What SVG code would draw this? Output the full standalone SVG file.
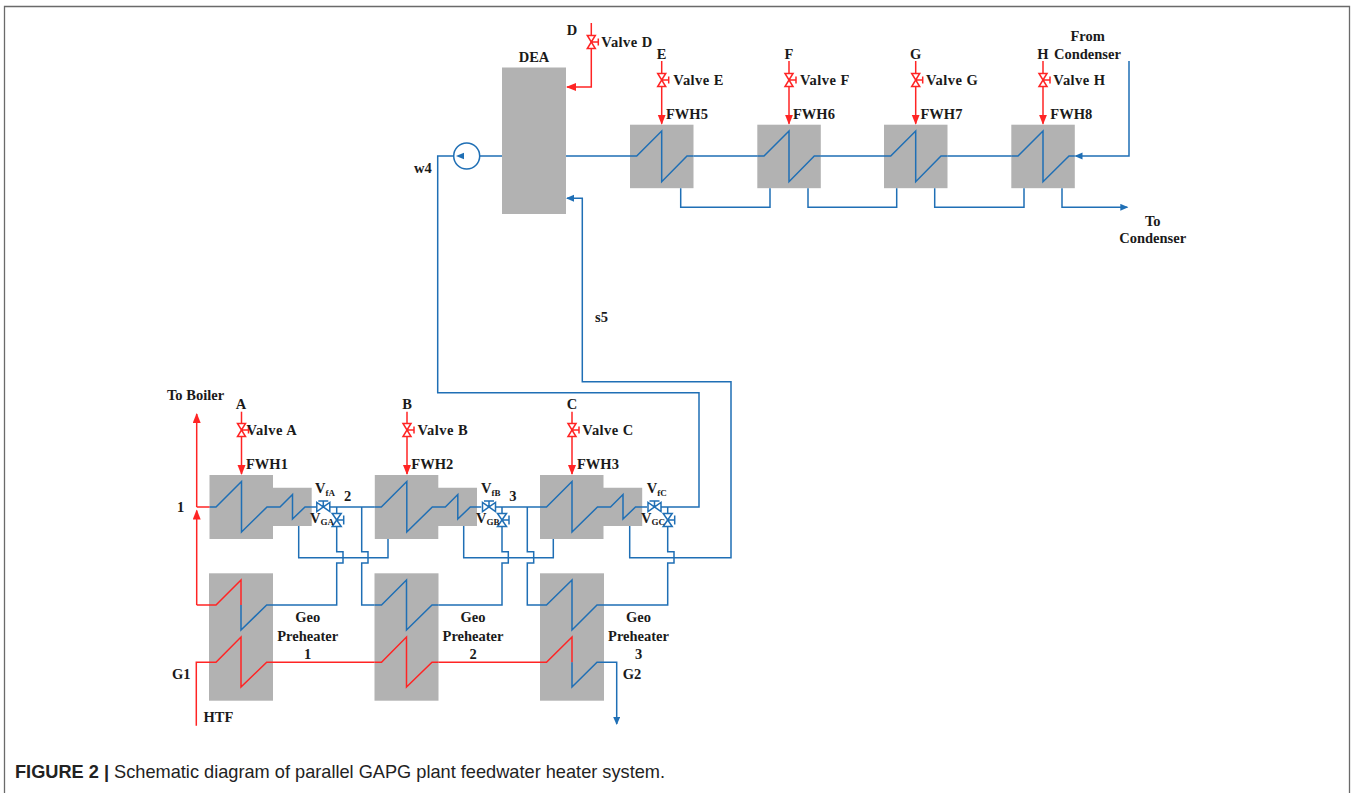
<svg xmlns="http://www.w3.org/2000/svg" width="1355" height="793" viewBox="0 0 1355 793">
<style>
text{font-family:"Liberation Serif","Times New Roman",serif;font-weight:700;font-size:14.5px;fill:#1a1a1a}
.m{text-anchor:middle}
.sub{font-size:9px}
.vl{letter-spacing:.45px}
.box{fill:#b2b2b2}
.b,.r{fill:none;stroke-width:1.5;stroke-linejoin:miter}
.b{stroke:#1f6fb5}
.r{stroke:#ff2424}
.cap{font-family:"Liberation Sans",Arial,sans-serif;font-size:18.2px;font-weight:400;fill:#222}
.capb{font-weight:700}
</style>
<defs>
<marker id="ar" markerUnits="userSpaceOnUse" markerWidth="11" markerHeight="9" refX="9" refY="4" orient="auto"><path d="M0,0 L10,4 L0,8 Z" fill="#ff2424"/></marker>
<marker id="ab" markerUnits="userSpaceOnUse" markerWidth="10" markerHeight="8" refX="7" refY="3.5" orient="auto"><path d="M0,0 L8,3.5 L0,7 Z" fill="#1f6fb5"/></marker>
<g id="vred"><path class="r" style="fill:#fff" d="M-4,-6.5 H4 L-4,6.5 H4 Z M0,0 H7 M7,-3.5 V3.5"/></g>
<g id="vh"><path class="b" style="fill:#fff" d="M-6.5,-4.5 V4.5 L6.5,-4.5 V4.5 Z M0,0 V-6 M-5,-6 H5"/></g>
<g id="vv"><path class="b" style="fill:#fff" d="M-4.5,-6.5 H4.5 L-4.5,6.5 H4.5 Z M0,0 H7 M7,-4.5 V4.5"/></g>
</defs>
<rect width="1355" height="793" fill="#fff"/>
<path d="M4.5,793 V6.5 H1349.5 V793" fill="none" stroke="#6a6a6a" stroke-width="1.3"/>

<g id="node-DEA"><rect class="box" x="502" y="67.5" width="64" height="146.5"/><text class="m" x="534" y="61.5">DEA</text></g>
<g id="node-pump"><circle class="b" cx="466.7" cy="156" r="13"/><path d="M456,156 L464,152.8 V159.2 Z" fill="#1f6fb5"/></g>

<g id="node-FWH5"><rect class="box" x="630" y="124.7" width="63.5" height="63.5"/><path class="b" d="M630,156 H636.7 L661.7,131 V181.7 L687,156 H693.5"/><text x="666" y="118.7">FWH5</text></g>
<g id="node-FWH6"><rect class="box" x="757.3" y="124.7" width="63.5" height="63.5"/><path class="b" d="M757.3,156 H764 L789,131 V181.7 L814.3,156 H820.8"/><text x="793" y="118.7">FWH6</text></g>
<g id="node-FWH7"><rect class="box" x="884" y="124.7" width="63.5" height="63.5"/><path class="b" d="M884,156 H890.7 L915.7,131 V181.7 L941,156 H947.5"/><text x="920.5" y="118.7">FWH7</text></g>
<g id="node-FWH8"><rect class="box" x="1011.3" y="124.7" width="63.5" height="63.5"/><path class="b" d="M1011.3,156 H1018 L1043,131 V181.7 L1069,156 H1074.8"/><text x="1050.3" y="118.7">FWH8</text></g>

<g id="node-FWH1"><path class="box" d="M209.5,475 H273 V487.7 H311.7 V526 H273 V539 H209.5 Z"/><path class="b" d="M209.5,507 H216 L241.5,481.5 V532 L267,507 H280 L292.5,494.5 V519 L305,507 H316"/><text x="246" y="469">FWH1</text></g>
<g id="node-FWH2"><path class="box" d="M374.8,475 H438.3 V487.7 H477 V526 H438.3 V539 H374.8 Z"/><path class="b" d="M374.8,507 H381.3 L406.8,481.5 V532 L432.3,507 H445.3 L457.8,494.5 V519 L470.3,507 H481.3"/><text x="411.3" y="469">FWH2</text></g>
<g id="node-FWH3"><path class="box" d="M540,475 H603.5 V487.7 H642.2 V526 H603.5 V539 H540 Z"/><path class="b" d="M540,507 H546.5 L572,481.5 V532 L597.5,507 H610.5 L623,494.5 V519 L635.5,507 H647"/><text x="577" y="469">FWH3</text></g>

<g id="node-Geo1"><rect class="box" x="209" y="573.3" width="64" height="127.4"/><path class="r" d="M209,605 H216 L241,580 V605"/><path class="b" d="M241,605 V630 L266.7,605 H273"/><path class="r" d="M209,662.3 H216 L241,637 V687 L266.7,662.3 H273"/><text class="m" x="307.7" y="622">Geo</text><text class="m" x="307.7" y="640.5">Preheater</text><text class="m" x="307.7" y="658.5">1</text></g>
<g id="node-Geo2"><rect class="box" x="374.5" y="573.3" width="64" height="127.4"/><path class="b" d="M374.5,605 H381.5 L406.5,580 V630 L432,605 H438.5"/><path class="r" d="M374.5,662.3 H381.5 L406.5,637 V687 L432,662.3 H438.5"/><text class="m" x="473" y="622">Geo</text><text class="m" x="473" y="640.5">Preheater</text><text class="m" x="473" y="658.5">2</text></g>
<g id="node-Geo3"><rect class="box" x="540" y="573.3" width="64" height="127.4"/><path class="b" d="M540,605 H546.5 L572,580 V630 L597,605 H604"/><path class="r" d="M540,662.3 H546.5 L572,637 V662.3"/><path class="b" d="M572,662.3 V687 L597,662.3 H604"/><text class="m" x="638.5" y="622">Geo</text><text class="m" x="638.5" y="640.5">Preheater</text><text class="m" x="638.5" y="658.5">3</text></g>

<g id="connectors">
<path class="r" d="M196.7,605 V510.5" marker-end="url(#ar)"/>
<path class="r" d="M196.7,507 V414" marker-end="url(#ar)"/>
<path class="r" d="M196.7,507 H209.5"/>
<path class="r" d="M196.7,605 H209"/>
<path class="r" d="M196.3,725.7 V662.3 H209"/>
<path class="r" d="M273,662.3 H374.5"/>
<path class="r" d="M438.5,662.3 H540"/>
<path class="b" d="M604,662.3 H616.7 V724" marker-end="url(#ab)"/>
<path class="r" d="M241.5,411.7 V474" marker-end="url(#ar)"/>
<path class="r" d="M407,411.7 V474" marker-end="url(#ar)"/>
<path class="r" d="M572,411.7 V474" marker-end="url(#ar)"/>
<path class="r" d="M591.3,23 V87 H567" marker-end="url(#ar)"/>
<path class="r" d="M661.7,61 V123.7" marker-end="url(#ar)"/>
<path class="r" d="M789,61 V123.7" marker-end="url(#ar)"/>
<path class="r" d="M915.7,61 V123.7" marker-end="url(#ar)"/>
<path class="r" d="M1043,61 V123.7" marker-end="url(#ar)"/>
<path class="b" d="M502,156 H479.7 M453.7,156 H437.7 V392.7 H699 V507 H661"/>
<path class="b" d="M566,156 H630 M693.5,156 H757.3 M820.8,156 H884 M947.5,156 H1011.3"/>
<path class="b" d="M1129,61 V156 H1075.5" marker-end="url(#ab)"/>
<path class="b" d="M680.7,188.3 V207.3 H770 V188.3 M808,188.3 V207.3 H896.7 V188.3 M934.7,188.3 V207.3 H1024 V188.3"/>
<path class="b" d="M1062,188.3 V207.3 H1127.3" marker-end="url(#ab)"/>
<path class="b" d="M629.7,526 V557.7 H731 V381.7 H582.3 V198.3 H567" marker-end="url(#ab)"/>
<path class="b" d="M298.7,526 V557.7 H388 V539"/>
<path class="b" d="M463.7,526 V557.7 H553.3 V539"/>
<path class="b" d="M330,507 H374.8"/>
<path class="b" d="M495.3,507 H540"/>
<path class="b" d="M336.7,507 V551.7 H343 V563 H336.7 V605 H273"/>
<path class="b" d="M502,507 V551.7 H508.3 V563 H502 V605 H438.5"/>
<path class="b" d="M667.7,507 V551.7 H674 V563 H667.7 V605 H604"/>
<path class="b" d="M361.7,507 V551.7 H368 V563 H361.7 V605 H374.5"/>
<path class="b" d="M527.3,507 V551.7 H533.7 V563 H527.3 V605 H540"/>
</g>

<g id="valve-A"><use href="#vred" x="241.5" y="430"/><text class="vl" x="246.5" y="435">Valve A</text><text class="m" x="241" y="409">A</text></g>
<g id="valve-B"><use href="#vred" x="407" y="430"/><text class="vl" x="417.5" y="435">Valve B</text><text class="m" x="407" y="409">B</text></g>
<g id="valve-C"><use href="#vred" x="572" y="430"/><text class="vl" x="582.3" y="435">Valve C</text><text class="m" x="572" y="409">C</text></g>
<g id="valve-D"><use href="#vred" x="591.3" y="42"/><text class="vl" x="601.3" y="46.7">Valve D</text><text class="m" x="572" y="35">D</text></g>
<g id="valve-E"><use href="#vred" x="661.7" y="80"/><text class="vl" x="673.3" y="84.7">Valve E</text><text class="m" x="661.7" y="59">E</text></g>
<g id="valve-F"><use href="#vred" x="789" y="80"/><text class="vl" x="800" y="84.7">Valve F</text><text class="m" x="789" y="59">F</text></g>
<g id="valve-G"><use href="#vred" x="915.7" y="80"/><text class="vl" x="926" y="84.7">Valve G</text><text class="m" x="915.7" y="59">G</text></g>
<g id="valve-H"><use href="#vred" x="1043" y="80"/><text class="vl" x="1053.3" y="84.7">Valve H</text><text class="m" x="1043" y="59">H</text></g>

<g id="valve-VfA"><use href="#vh" x="323.3" y="507"/><text x="315" y="493">V<tspan class="sub" dy="3">fA</tspan></text></g>
<g id="valve-VGA"><use href="#vv" x="336.7" y="520"/><text x="310" y="523">V<tspan class="sub" dy="2">GA</tspan></text></g>
<g id="valve-VfB"><use href="#vh" x="489" y="507"/><text x="481" y="493">V<tspan class="sub" dy="3">fB</tspan></text></g>
<g id="valve-VGB"><use href="#vv" x="502" y="520"/><text x="476" y="523">V<tspan class="sub" dy="2">GB</tspan></text></g>
<g id="valve-VfC"><use href="#vh" x="654.5" y="507"/><text x="646.7" y="493">V<tspan class="sub" dy="3">fC</tspan></text></g>
<g id="valve-VGC"><use href="#vv" x="667.7" y="520"/><text x="641" y="523">V<tspan class="sub" dy="2">GC</tspan></text></g>

<g id="labels">
<text x="167" y="400">To Boiler</text>
<text x="177" y="511.5">1</text>
<text x="344" y="500.7">2</text>
<text x="509.3" y="500.7">3</text>
<text x="172" y="679">G1</text>
<text x="203.5" y="721.7">HTF</text>
<text x="622.7" y="679">G2</text>
<text x="595" y="322">s5</text>
<text x="414" y="173">w4</text>
<text class="m" x="1087.7" y="41">From</text>
<text x="1054" y="59">Condenser</text>
<text class="m" x="1152.7" y="225.7">To</text>
<text class="m" x="1152.7" y="243">Condenser</text>
</g>
<text class="cap" x="15" y="778"><tspan class="capb">FIGURE 2 | </tspan>Schematic diagram of parallel GAPG plant feedwater heater system.</text>
</svg>
